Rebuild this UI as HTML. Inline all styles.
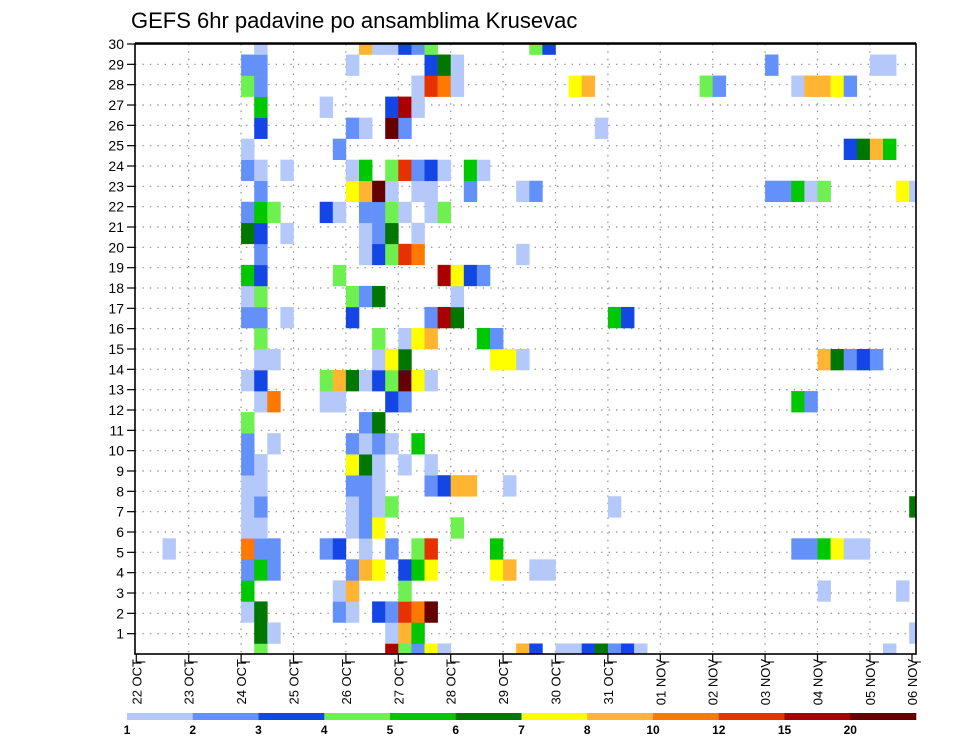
<!DOCTYPE html>
<html>
<head>
<meta charset="utf-8">
<style>
  html, body { margin: 0; padding: 0; background: #fff; }
  body { width: 960px; height: 742px; overflow: hidden; }
  svg text { font-family: "Liberation Sans", "DejaVu Sans", sans-serif; }
</style>
</head>
<body>
<svg id="chart" width="960" height="742" viewBox="0 0 960 742" xmlns="http://www.w3.org/2000/svg">
  <text x="131" y="28" font-size="22" fill="#000">GEFS 6hr padavine po ansamblima Krusevac</text>
  <g id="grid"></g>
  <g id="cells"></g>
  <g id="axes"></g>
  <g id="colorbar"></g>
</svg>
<script>
// ---- data ----
const dayLabels = ["22 OCT","23 OCT","24 OCT","25 OCT","26 OCT","27 OCT","28 OCT","29 OCT","30 OCT","31 OCT","01 NOV","02 NOV","03 NOV","04 NOV","05 NOV","06 NOV"];
const yTickLabels = [1,2,3,4,5,6,7,8,9,10,11,12,13,14,15,16,17,18,19,20,21,22,23,24,25,26,27,28,29,30];
const levelValues = [1,2,3,4,5,6,7,8,10,12,15,20];
const levelCodes = ["a","b","c","d","e","f","g","h","i","j","k","l"];
const levelColors = ["#b4c8fa","#6490fa","#1446e6","#6ef050","#00c800","#007800","#ffff00","#ffb432","#ff7800","#e63200","#aa0000","#640000"];
// member rows (index 0 = bottom band); each token = level code + 6-hourly step index from 22 OCT 00z
const memberRows = [
  "d9 k19 d20 b21 g22 a23 h29 c30 a32 a33 c34 f35 b36 c37 a38 a57",
  "f9 a10 a19 h20 e21 a59",
  "a8 f9 b15 a16 c18 b19 j20 i21 l22",
  "e8 a15 h16 d20 a52 a58",
  "b8 e9 b10 b16 h17 g18 c20 e21 g22 g27 h28 a30 a31",
  "a2 i8 b9 b10 b14 c15 a17 b19 d21 j22 e27 b50 b51 e52 g53 a54 a55",
  "a8 a9 a16 b17 g18 d24",
  "a8 b9 a16 b17 a18 d19 a36 f59",
  "a8 a9 b16 b17 a18 b22 c23 h24 h25 a28",
  "b8 a9 g16 f17 a18 a20 a22",
  "b8 a10 b16 a17 b18 a19 e21",
  "d8 b17 f18",
  "a9 i10 a14 a15 c19 b20 e50 b51",
  "a8 c9 d14 h15 f16 a17 c18 d19 l20 g21 a22",
  "a9 a10 a18 g19 f20 g27 g28 a29 h52 f53 b54 c55 b56",
  "d9 d18 a20 g21 h22 e26 b27",
  "b8 b9 a11 c16 b22 k23 f24 e36 c37",
  "a8 d9 d16 b17 f18 a24",
  "e8 c9 d15 k23 g24 c25 b26",
  "b9 a17 c18 d19 j20 i21 a29",
  "f8 c9 a11 a17 b18 f19 a21",
  "b8 e9 d10 c14 a15 b17 b18 d19 a20 a22 d23",
  "b9 g16 h17 l18 a19 a21 a22 b25 a29 b30 b48 b49 e50 a51 d52 g58 a59",
  "b8 a9 a11 a16 e17 d19 j20 b21 c22 a23 e25 a26",
  "a8 b15 c54 f55 h56 e57",
  "c9 b16 a17 l19 b20 a35",
  "e9 a14 c19 k20 a21",
  "d8 b9 a21 j22 i23 a24 g33 h34 d43 b44 a50 h51 h52 g53 b54",
  "b8 b9 a16 c22 f23 a24 b48 a56 a57",
  "a9 h17 a18 a19 c20 b21 d22 d30 c31"
];

// ---- geometry / axis functions ----
const NS = "http://www.w3.org/2000/svg";
const PL = 135, PR = 916, PT = 44, PB = 654;
const X0 = 136.3, DAY = 52.4, STEP = DAY / 4;
const BAND = (PB - PT) / 29;            // member band height
const TICK = (PB - PT) / 30;            // y tick spacing
const xStep = i => X0 + i * STEP;
const xDay = d => X0 + d * DAY;
const yBand = k => PB - k * BAND;       // band centre
const yTick = v => PB - v * TICK;

function mk(tag, attrs, parent) {
  const el = document.createElementNS(NS, tag);
  for (const k in attrs) el.setAttribute(k, attrs[k]);
  parent.appendChild(el);
  return el;
}

// grid
const grid = document.getElementById("grid");
yTickLabels.forEach(v => {
  if (v >= 30) return;
  const l = mk("line", {x1: PL, x2: PR, y1: yTick(v), y2: yTick(v), stroke: "#8a8a8a", "stroke-width": 1.2, "stroke-dasharray": "1.4 6"}, grid);
  
  
});
dayLabels.forEach((d, j) => {
  if (j === 0 || xDay(j) > PR - 2) return;
  const l = mk("line", {x1: xDay(j), x2: xDay(j), y1: PT, y2: PB, stroke: "#8a8a8a", "stroke-width": 1.2, "stroke-dasharray": "1.4 6"}, grid);
  
  
});

// cells
const cells = document.getElementById("cells");
memberRows.forEach((row, k) => {
  row.split(" ").forEach(tok => {
    const code = tok[0];
    const step = parseInt(tok.slice(1), 10);
    const li = levelCodes.indexOf(code);
    let x = xStep(step), w = STEP;
    let y = yBand(k) - BAND / 2, h = BAND;
    if (y < PT) { h -= (PT - y); y = PT; }
    if (y + h > PB) h = PB - y;
    if (x + w > PR) w = PR - x;
    if (w <= 0 || h <= 0) return;
    const r = mk("rect", {x: x.toFixed(2), y: y.toFixed(2), width: (w + 0.3).toFixed(2), height: (h + 0.3).toFixed(2), fill: levelColors[li]}, cells);
    
    
    r.setAttribute('data-value', levelValues[li]);
  });
});

// axes
const axes = document.getElementById("axes");
const frame = mk("rect", {x: PL, y: PT, width: PR - PL, height: PB - PT, fill: "none", stroke: "#000", "stroke-width": 1.6}, axes);


const topLine = mk("line", {x1: PL, x2: PR, y1: PT - 1, y2: PT - 1, stroke: "#000", "stroke-width": 1.5}, axes);


yTickLabels.forEach(v => {
  const y = yTick(v);
  const t = mk("line", {x1: PL - 8, x2: PL, y1: y, y2: y, stroke: "#000", "stroke-width": 1.2}, axes);
  
  
  const lab = mk("text", {x: PL - 11, y: y + 5, "font-size": 14, "text-anchor": "end", fill: "#000"}, axes);
  lab.textContent = v;
  
  
});
dayLabels.forEach((d, j) => {
  const x = Math.min(xDay(j), PR - 4);
  const t = mk("line", {x1: x, x2: x, y1: PB, y2: PB + 8, stroke: "#000", "stroke-width": 1.2}, axes);
  
  
  const t2 = mk("line", {x1: x, x2: x + 9, y1: PB + 8, y2: PB + 8, stroke: "#000", "stroke-width": 1}, axes);
  
  
  const lab = mk("text", {x: 0, y: 0, "font-size": 13, "text-anchor": "end", fill: "#000", transform: `translate(${x + 5},${PB + 5}) rotate(-90)`}, axes);
  lab.textContent = d;
  
  
});

// colorbar
const cb = document.getElementById("colorbar");
const CB0 = 127, CB1 = 916, CBY = 713, CBH = 7;
const segW = (CB1 - CB0) / levelColors.length;
levelColors.forEach((c, j) => {
  const r = mk("rect", {x: CB0 + j * segW, y: CBY, width: segW + 0.3, height: CBH, fill: c}, cb);
  
  
});
levelValues.forEach((v, j) => {
  const lab = mk("text", {x: CB0 + j * segW, y: 734, "font-size": 12, "font-weight": "bold", "text-anchor": "middle", fill: "#000"}, cb);
  lab.textContent = v;
  
  
});
</script>
</body>
</html>
